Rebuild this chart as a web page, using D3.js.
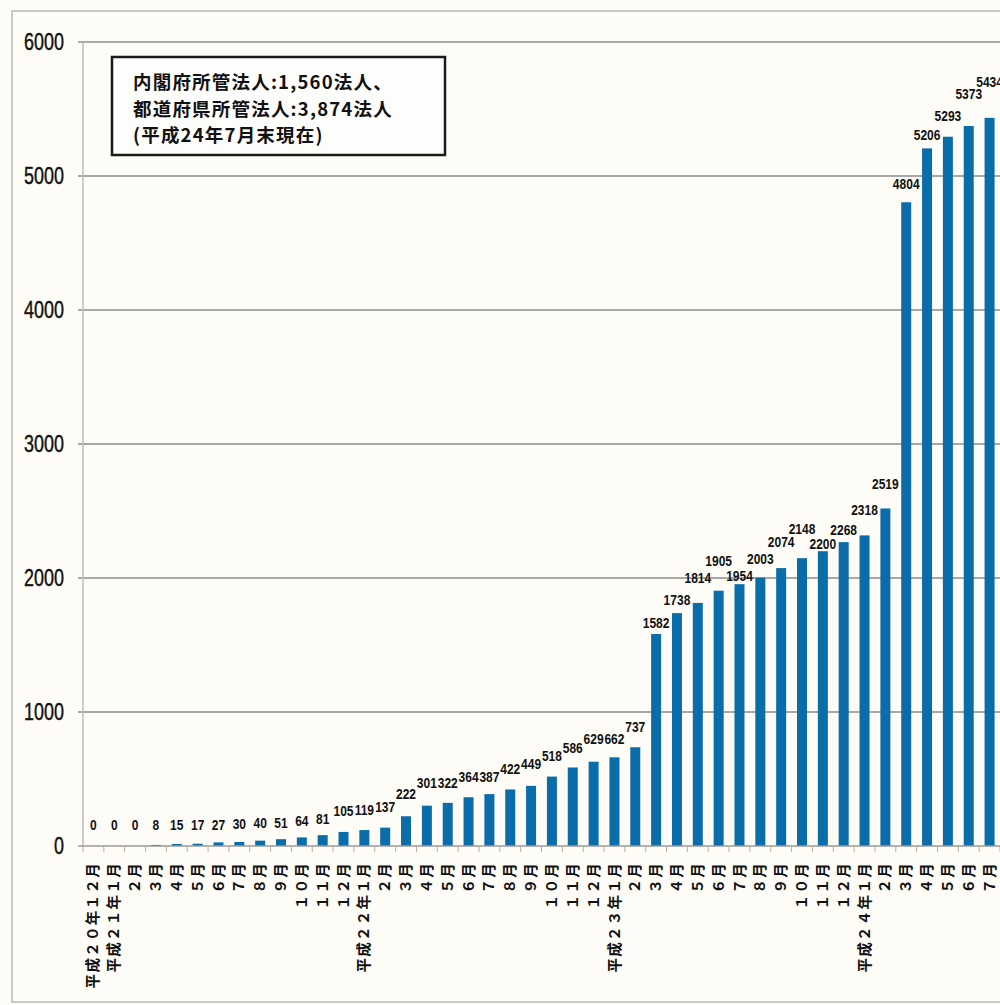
<!DOCTYPE html>
<html>
<head>
<meta charset="utf-8">
<script src="https://cdn.jsdelivr.net/npm/d3@7"></script>
<style>
  body { margin: 0; background: #fdfcf7; }
  svg { display: block; }
</style>
</head>
<body>
<div id="chart"></div>
<script>
// month labels (rotated under the axis)
const months = [
  "平成２０年１２月",
  "平成２１年１月", "２月", "３月", "４月", "５月", "６月", "７月", "８月", "９月", "１０月", "１１月", "１２月",
  "平成２２年１月", "２月", "３月", "４月", "５月", "６月", "７月", "８月", "９月", "１０月", "１１月", "１２月",
  "平成２３年１月", "２月", "３月", "４月", "５月", "６月", "７月", "８月", "９月", "１０月", "１１月", "１２月",
  "平成２４年１月", "２月", "３月", "４月", "５月", "６月", "７月"
];

// number of corporations at month end
const counts = [
  0,
  0, 0, 8, 15, 17, 27, 30, 40, 51, 64, 81, 105,
  119, 137, 222, 301, 322, 364, 387, 422, 449, 518, 586, 629,
  662, 737, 1582, 1738, 1814, 1905, 1954, 2003, 2074, 2148, 2200, 2268,
  2318, 2519, 4804, 5206, 5293, 5373, 5434
];

// how far each value label sits above its bar (the original staggers them)
const labelLift = [
  21,
  21, 21, 20, 19, 19, 18, 18, 18, 17, 17, 17, 21,
  20, 21, 23, 23, 20, 21, 18, 21, 22, 21, 20, 23,
  19, 21, 11, 14, 25, 30, 9, 19, 26, 30, 8, 12,
  26, 25, 19, 14, 21, 32, 36
];

const yTicks = [0, 1000, 2000, 3000, 4000, 5000, 6000];

const noteLines = [
  "内閣府所管法人:1,560法人、",
  "都道府県所管法人:3,874法人",
  "(平成24年7月末現在)"
];

const W = 1000, H = 1005;
const plot = { left: 83, right: 1000, top: 42, bottom: 846 };
const numFont = "'Liberation Sans', Arial, sans-serif";

const svg = d3.select("#chart")
  .append("svg")
  .attr("width", W)
  .attr("height", H);

// scanned-page frame
svg.append("rect")
  .attr("x", 12).attr("y", 11)
  .attr("width", 1010).attr("height", 991)
  .attr("fill", "none")
  .attr("stroke", "#b9b9b5")
  .attr("stroke-width", 1.5);

const x = d3.scaleBand()
  .domain(d3.range(counts.length))
  .range([plot.left, plot.right])
  .paddingInner(0.52)
  .paddingOuter(0.26);

const y = d3.scaleLinear()
  .domain([0, 6000])
  .range([plot.bottom, plot.top]);

// Gridlines
svg.append("g")
  .selectAll("line")
  .data(yTicks.filter(d => d > 0))
  .enter()
  .append("line")
  .attr("x1", 78).attr("x2", W)
  .attr("y1", d => y(d)).attr("y2", d => y(d))
  .attr("stroke", "#8c8c8a")
  .attr("stroke-width", 1.5);

// Y axis line
svg.append("line")
  .attr("x1", plot.left).attr("x2", plot.left)
  .attr("y1", plot.top).attr("y2", plot.bottom)
  .attr("stroke", "#bdbdbb")
  .attr("stroke-width", 1.5);

// Y tick labels (narrow face)
svg.append("g")
  .selectAll("text")
  .data(yTicks)
  .enter()
  .append("text")
  .attr("transform", d => `translate(64,${y(d)}) scale(0.78,1)`)
  .attr("dy", "0.36em")
  .attr("text-anchor", "end")
  .style("font-family", numFont)
  .style("font-size", "23px")
  .style("stroke", "#111")
  .style("stroke-width", 0.4)
  .style("fill", "#111")
  .text(d => d);

// Bars
svg.append("g")
  .selectAll("rect")
  .data(counts)
  .enter()
  .append("rect")
  .attr("x", (d, i) => x(i))
  .attr("y", d => y(d))
  .attr("width", x.bandwidth())
  .attr("height", d => plot.bottom - y(d))
  .attr("fill", "#0a6daa");

// X axis line + tick marks at band edges
const step = x.step();
svg.append("line")
  .attr("x1", 78).attr("x2", W)
  .attr("y1", plot.bottom).attr("y2", plot.bottom)
  .attr("stroke", "#9a9a98")
  .attr("stroke-width", 1.5);

svg.append("g")
  .selectAll("line")
  .data(d3.range(counts.length + 1))
  .enter()
  .append("line")
  .attr("x1", i => plot.left + i * step)
  .attr("x2", i => plot.left + i * step)
  .attr("y1", plot.bottom).attr("y2", plot.bottom + 6)
  .attr("stroke", "#b8ae9a")
  .attr("stroke-width", 1);

// Month labels
svg.append("g")
  .selectAll("text")
  .data(months)
  .enter()
  .append("text")
  .attr("transform", (d, i) => `translate(${x(i) + x.bandwidth() / 2},${plot.bottom + 16}) rotate(-90)`)
  .attr("dy", "0.35em")
  .attr("text-anchor", "end")
  .style("font-family", "'Noto Sans CJK JP', sans-serif")
  .style("font-weight", "bold")
  .style("font-size", "14.5px")
  .style("letter-spacing", "1.3px")
  .style("fill", "#111")
  .text(d => d);

// Value labels
svg.append("g")
  .selectAll("text")
  .data(counts)
  .enter()
  .append("text")
  .attr("transform", (d, i) => `translate(${x(i) + x.bandwidth() / 2},${y(d) - labelLift[i]}) scale(0.8,1)`)
  .attr("dy", "0.36em")
  .attr("text-anchor", "middle")
  .style("font-family", numFont)
  .style("font-weight", "bold")
  .style("font-size", "15px")
  .style("fill", "#111")
  .text(d => d);

// Note box
const note = svg.append("g");
note.append("rect")
  .attr("x", 112).attr("y", 57)
  .attr("width", 333).attr("height", 98)
  .attr("fill", "#fdfdfb")
  .attr("stroke", "#1a1a1a")
  .attr("stroke-width", 2.5);

note.selectAll("text")
  .data(noteLines)
  .enter()
  .append("text")
  .attr("x", 133)
  .attr("y", (d, i) => 89 + i * 26.5)
  .style("font-family", "'Noto Sans CJK JP', sans-serif")
  .style("font-weight", "bold")
  .style("font-size", "18.5px")
  .style("letter-spacing", "1.2px")
  .style("fill", "#111")
  .text(d => d);
</script>
</body>
</html>
